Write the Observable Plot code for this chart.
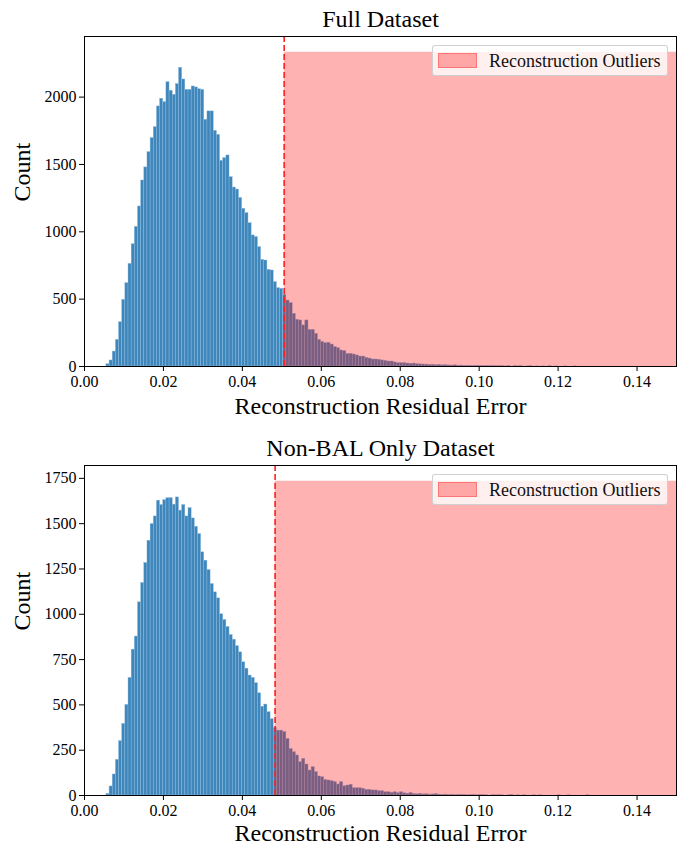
<!DOCTYPE html>
<html>
<head>
<meta charset="utf-8">
<script src="https://cdn.jsdelivr.net/npm/d3@7"></script>
<script src="https://cdn.jsdelivr.net/npm/@observablehq/plot@0.6"></script>
<style>
  html, body { margin: 0; padding: 0; background: white; }
  #page { position: relative; width: 686px; height: 845px; font-family: "Liberation Serif", "Times New Roman", serif; }
  #page svg { display: block; }
  #page svg text { font-family: "Liberation Serif", "Times New Roman", serif !important; }
  .legend { position: absolute; box-sizing: border-box; width: 236px; height: 31px;
    background: rgba(255,255,255,0.8); border: 1px solid rgba(204,204,204,0.9); border-radius: 3px; }
  .legend .patch { position: absolute; left: 5px; top: 7px; width: 37px; height: 13px;
    background: rgba(255,0,0,0.3); border: 1px solid rgba(255,0,0,0.3); }
  .legend .label { position: absolute; left: 56px; top: 0; line-height: 30px; font-size: 18px; color: #111; white-space: nowrap; }
</style>
</head>
<body>
<div id="page"></div>
<script>
// ---- data ----
const binStart = 0.00555;
const binWidth = 0.0008;

const fullCounts = [
  17, 45, 111, 198, 329, 495, 619, 762, 908, 1037,
  1188, 1381, 1478, 1592, 1696, 1777, 1931, 1988, 1963, 2111,
  2047, 2017, 2097, 2218, 2131, 2054, 2054, 2079, 2072, 2059,
  2054, 1832, 1894, 1894, 1750, 1720, 1527, 1547, 1567, 1406,
  1329, 1314, 1252, 1171, 1139, 1064, 973, 961, 887, 792,
  787, 718, 713, 627, 582, 577, 532, 490, 471, 391,
  347, 342, 305, 342, 272, 272, 243, 198, 183, 173,
  176, 163, 144, 136, 119, 114, 94, 94, 89, 82,
  74, 74, 64, 59, 52, 52, 50, 45, 42, 37,
  37, 30, 25, 25, 25, 22, 20, 22, 18, 16,
  15, 14, 12, 13, 10, 12, 9, 10, 8, 7,
  9, 6, 7, 5, 6, 5, 4, 6, 4, 3,
  5, 3, 4, 2, 3, 2, 1, 3, 0, 2,
  1, 2, 0, 1, 2, 0, 1, 0, 1, 0,
  2, 0, 1, 0, 0, 1, 0, 0, 1
];

const nonBalCounts = [
  9, 50, 116, 197, 300, 395, 500, 649, 805, 877,
  1066, 1173, 1283, 1406, 1498, 1540, 1627, 1603, 1630, 1641,
  1641, 1605, 1645, 1572, 1603, 1540, 1586, 1529, 1483, 1443,
  1342, 1296, 1244, 1167, 1121, 1088, 1000, 969, 930, 886,
  860, 824, 790, 735, 700, 662, 649, 620, 564, 490,
  502, 460, 421, 373, 358, 358, 350, 312, 257, 239,
  221, 184, 202, 171, 138, 156, 129, 105, 101, 86,
  83, 79, 74, 61, 74, 51, 55, 59, 40, 40,
  40, 37, 31, 31, 28, 28, 24, 24, 18, 18,
  15, 18, 13, 18, 12, 10, 14, 8, 7, 9,
  6, 7, 5, 6, 8, 5, 4, 5, 3, 4,
  2, 3, 4, 2, 1, 2, 3, 1, 2, 2,
  1, 0, 2, 1, 2, 1, 0, 1, 2, 0,
  1, 0, 1, 0, 0, 1, 0, 1, 0, 0,
  0, 0, 0, 1, 0, 0, 1, 0, 0, 0,
  0, 0, 1
];

const xTicks = [0.00, 0.02, 0.04, 0.06, 0.08, 0.10, 0.12, 0.14];
const yTicksFull = [0, 500, 1000, 1500, 2000];
const yTicksNonBal = [0, 250, 500, 750, 1000, 1250, 1500, 1750];

const fullThreshold = 0.0506;
const nonBalThreshold = 0.0483;
const fullSpanTop = 2333;
const nonBalSpanTop = 1734;
const fullYMax = 2450;
const nonBalYMax = 1821;
const xMax = 0.15;

const titles = ["Full Dataset", "Non-BAL Only Dataset"];
const xLabel = "Reconstruction Residual Error";
const yLabel = "Count";
const legendLabel = "Reconstruction Outliers";

// ---- chart builder ----
const FONT = '"Liberation Serif", "Times New Roman", serif';

function makeChart({counts, threshold, spanTop, yMax, yTicks, title, height, marginTop, marginBottom, xLabelDy}) {
  const bins = counts
    .map((c, i) => ({x1: binStart + i * binWidth, x2: binStart + (i + 1) * binWidth, count: c}))
    .filter(d => d.count > 0);
  const svg = Plot.plot({
    width: 686,
    height,
    marginLeft: 84,
    marginRight: 10,
    marginTop,
    marginBottom,
    style: {fontFamily: FONT, fontSize: "16px", color: "black", background: "white", overflow: "visible"},
    x: {domain: [0, xMax]},
    y: {domain: [0, yMax]},
    marks: [
      Plot.rect(bins, {x1: "x1", x2: "x2", y1: 0, y2: "count", fill: "#3f87bb", stroke: "#8dbbe0", strokeWidth: 0.4}),
      Plot.rect([{x1: threshold, x2: xMax, y2: spanTop}], {x1: "x1", x2: "x2", y1: 0, y2: "y2", fill: "red", fillOpacity: 0.3}),
      Plot.ruleX([threshold], {stroke: "#ff2020", strokeWidth: 1.6, strokeDasharray: "6,3"}),
      Plot.frame({stroke: "black", strokeWidth: 1}),
      Plot.axisX({ticks: xTicks, tickFormat: d3.format(".2f"), tickSize: 5, tickPadding: 4, label: null, fontSize: 16}),
      Plot.axisY({ticks: yTicks, tickFormat: d => String(d), tickSize: 5, tickPadding: 3, label: null, fontSize: 16}),
      Plot.text([title], {frameAnchor: "top", lineAnchor: "middle", dy: -17, fontSize: 24, fill: "black"}),
      Plot.text([xLabel], {frameAnchor: "bottom", lineAnchor: "middle", dy: xLabelDy, fontSize: 24, fill: "black"}),
      Plot.text([yLabel], {frameAnchor: "left", lineAnchor: "middle", rotate: -90, dx: -62, fontSize: 24, fill: "black"})
    ]
  });
  svg.querySelectorAll("g[aria-label$='axis'], g[aria-label*='tick label']").forEach(g => {
    g.setAttribute("font-family", FONT);
    g.style.fontFamily = FONT;
  });
  svg.querySelectorAll("text").forEach(t => { t.style.fontFamily = FONT; });
  return svg;
}

const page = document.getElementById("page");
page.append(makeChart({
  counts: fullCounts, threshold: fullThreshold, spanTop: fullSpanTop, yMax: fullYMax,
  yTicks: yTicksFull, title: titles[0], height: 423, marginTop: 36, marginBottom: 57, xLabelDy: 40
}));
page.append(makeChart({
  counts: nonBalCounts, threshold: nonBalThreshold, spanTop: nonBalSpanTop, yMax: nonBalYMax,
  yTicks: yTicksNonBal, title: titles[1], height: 422, marginTop: 42, marginBottom: 50, xLabelDy: 38
}));

function addLegend(top) {
  const box = document.createElement("div");
  box.className = "legend";
  box.style.left = "432px";
  box.style.top = top + "px";
  const patch = document.createElement("div");
  patch.className = "patch";
  const label = document.createElement("div");
  label.className = "label";
  label.textContent = legendLabel;
  box.append(patch, label);
  page.append(box);
}
addLegend(45);
addLegend(474);
</script>
</body>
</html>
